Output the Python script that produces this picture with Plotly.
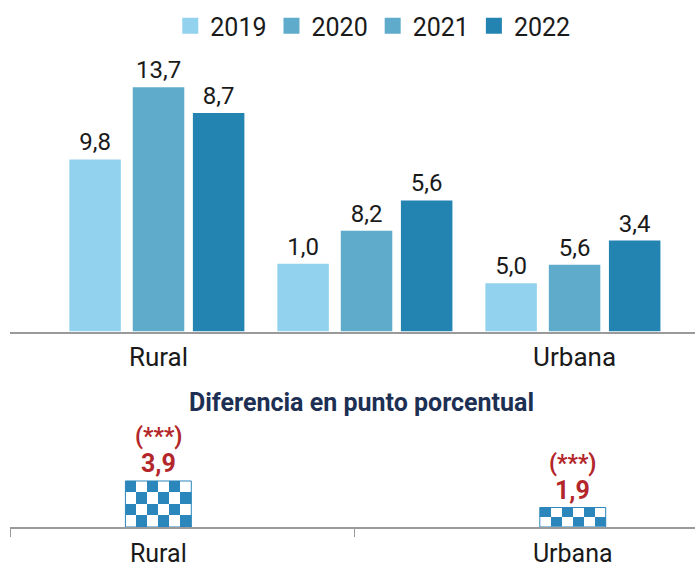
import numpy as np
import plotly.graph_objects as go

# ---------------- data ----------------
years = ["2019", "2020", "2021", "2022"]
groups = ["Rural", "", "Urbana"]

# bar heights as drawn in the picture
height_2019 = [9.65, 3.8, 2.7]
height_2020 = [13.7, 5.65, 3.75]
height_2022 = [12.25, 7.35, 5.1]
# values printed above the bars
label_2019 = [9.8, 1.0, 5.0]
label_2020 = [13.7, 8.2, 5.6]
label_2022 = [8.7, 5.6, 3.4]

diff_categories = ["Rural", "Urbana"]
diff_values = [3.9, 1.9]
diff_height = [3.9, 1.65]
diff_signif = ["(***)", "(***)"]

# ---------------- style ----------------
FONT = "Roboto"
C19, C20, C21, C22 = "#93d2ee", "#5fabcc", "#5fabcc", "#2384b1"
CHECK = "#2a86bb"
RED = "#b3272b"
NAVY = "#1d3054"
AXIS = "#9a9a9a"

fig = go.Figure()

x_top = np.arange(len(groups))
bar_w = 0.2476
series = [
    (height_2019, label_2019, C19, -0.305),
    (height_2020, label_2020, C20, 0.0),
    (height_2022, label_2022, C22, 0.289),
]
for h, lab, col, off in series:
    fig.add_trace(go.Bar(
        x=x_top, y=h, text=lab, texttemplate="%{text:.1f}",
        textposition="outside", cliponaxis=False,
        textfont=dict(family=FONT, size=24, color="#1a1a1a"),
        marker=dict(color=col, line=dict(width=0)),
        width=bar_w, offset=off - bar_w / 2,
        showlegend=False, hoverinfo="skip",
        xaxis="x", yaxis="y",
    ))

# legend entries
for name, col in zip(years, [C19, C20, C21, C22]):
    fig.add_trace(go.Scatter(
        x=[None], y=[None], mode="markers", name=name,
        marker=dict(symbol="square", size=16, color=col),
        xaxis="x", yaxis="y",
    ))

# ---------------- bottom chart: checkered bars ----------------
dw = 0.159
ncols = 6
for i, (val, h) in enumerate(zip(diff_values, diff_height)):
    nrows = int(round(h))
    xe = np.linspace(i - dw / 2, i + dw / 2, ncols + 1)
    ye = np.linspace(0, h, nrows + 1)
    z = [[(r + c) % 2 for c in range(ncols)] for r in range(nrows)]
    fig.add_trace(go.Heatmap(
        x=xe, y=ye, z=z, zmin=0, zmax=1,
        colorscale=[[0, "white"], [1, CHECK]], showscale=False,
        hoverinfo="skip", xaxis="x2", yaxis="y2",
    ))

fig.add_trace(go.Bar(
    x=list(range(len(diff_categories))), y=diff_height, width=dw,
    marker=dict(color="rgba(0,0,0,0)", line=dict(color=CHECK, width=1)),
    showlegend=False, hoverinfo="skip", xaxis="x2", yaxis="y2",
))

annotations = []
for i, (val, h, sig) in enumerate(zip(diff_values, diff_height, diff_signif)):
    annotations.append(dict(
        x=i, y=h, xref="x2", yref="y2", yanchor="bottom", yshift=1,
        text=f"{val:.1f}".replace(".", ","), showarrow=False,
        font=dict(family=FONT, size=25, color=RED, weight="bold"),
    ))
    annotations.append(dict(
        x=i, y=h, xref="x2", yref="y2", yanchor="bottom", yshift=29,
        text=sig, showarrow=False,
        font=dict(family=FONT, size=23, color=RED, weight="bold"),
    ))

annotations.append(dict(
    x=361 / 695, y=(571 - 402) / 571, xref="paper", yref="paper",
    xanchor="center", yanchor="middle", showarrow=False,
    text="Diferencia en punto porcentual",
    font=dict(family=FONT, size=25, color=NAVY, weight="bold"),
))

fig.update_layout(
    width=695, height=571,
    margin=dict(l=0, r=0, t=0, b=0, autoexpand=False),
    paper_bgcolor="white", plot_bgcolor="white",
    separators=",.",
    barmode="overlay",
    showlegend=True,
    legend=dict(
        orientation="h", x=0.245, xanchor="left", y=(571 - 26) / 571,
        yanchor="middle", font=dict(family=FONT, size=25, color="#1a1a1a"),
        itemsizing="trace", bgcolor="rgba(0,0,0,0)", traceorder="normal",
    ),
    xaxis=dict(
        domain=[10 / 695, 1], range=[-0.714, 2.579],
        tickvals=[i for i, g in enumerate(groups) if g],
        ticktext=[g for g in groups if g],
        ticks="outside", ticklen=2, tickcolor="rgba(0,0,0,0)",
        tickfont=dict(family=FONT, size=26, color="#1a1a1a"),
        showline=True, linecolor=AXIS, linewidth=1.5, automargin=False,
        showgrid=False, zeroline=False, anchor="y", fixedrange=True,
    ),
    yaxis=dict(
        domain=[(571 - 331.5) / 571, (571 - 60) / 571], range=[0, 15.23],
        visible=False, fixedrange=True, automargin=False,
    ),
    xaxis2=dict(
        domain=[10 / 695, 1], range=[-0.358, 1.295],
        tickvals=list(range(len(diff_categories))), ticktext=diff_categories,
        ticks="outside", ticklen=3, tickcolor="rgba(0,0,0,0)",
        tickfont=dict(family=FONT, size=25, color="#1a1a1a"),
        minor=dict(tickvals=[-0.357, 0.474], ticks="outside", ticklen=8,
                   tickcolor=AXIS, tickwidth=1),
        showline=True, linecolor=AXIS, linewidth=1.5, automargin=False,
        showgrid=False, zeroline=False, anchor="y2", fixedrange=True,
    ),
    yaxis2=dict(
        domain=[(571 - 527) / 571, (571 - 420) / 571], range=[0, 9.07],
        visible=False, fixedrange=True, automargin=False,
    ),
    annotations=annotations,
)

fig.write_html("out.html", config={"displayModeBar": False},
               post_script="document.body.style.margin='0';")
